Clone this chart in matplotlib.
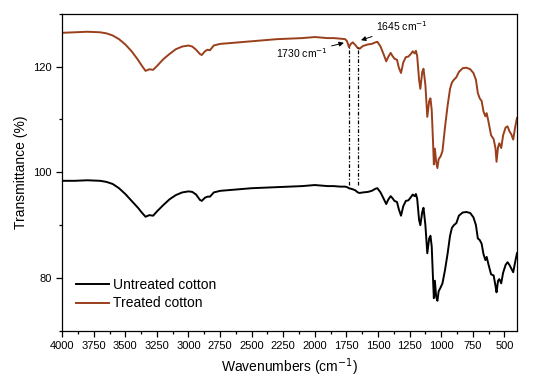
import numpy as np
import matplotlib
matplotlib.use('Agg')
import matplotlib.pyplot as plt
from matplotlib.ticker import MultipleLocator

plt.rcParams['font.family'] = ['Liberation Sans', 'DejaVu Sans']

# wavenumbers (cm-1) and transmittance (%)
wavenumber = [4000, 3900, 3800, 3700, 3650, 3600, 3550, 3500, 3450, 3400, 3370, 3340, 3310, 3280,
              3250, 3200, 3150, 3100, 3050, 3000, 2970, 2940, 2910, 2895, 2870, 2850, 2830, 2800,
              2750, 2700, 2600, 2500, 2400, 2300, 2200, 2100, 2000, 1950, 1900, 1850, 1800, 1760,
              1745, 1730, 1715, 1700, 1680, 1660, 1645, 1620, 1580, 1550, 1520, 1505, 1480, 1455,
              1435, 1420, 1400, 1385, 1370, 1350, 1335, 1318, 1300, 1280, 1260, 1240, 1225, 1210,
              1200, 1190, 1175, 1165, 1150, 1140, 1125, 1110, 1095, 1085, 1075, 1065, 1058, 1050,
              1040, 1030, 1020, 1005, 990, 970, 950, 930, 915, 900, 880, 860, 830, 800,
              770, 745, 725, 710, 695, 680, 665, 650, 640, 625, 605, 585, 570, 562,
              550, 540, 525, 510, 490, 475, 460, 445, 430, 415, 400]

untreated = [98.4, 98.4, 98.5, 98.4, 98.2, 97.8, 97.0, 95.9, 94.6, 93.3, 92.4, 91.6, 91.9, 91.8,
             92.6, 93.8, 94.9, 95.7, 96.2, 96.4, 96.3, 95.8, 94.8, 94.6, 95.2, 95.4, 95.4, 96.2,
             96.5, 96.6, 96.8, 97.0, 97.1, 97.2, 97.3, 97.4, 97.6, 97.5, 97.4, 97.4, 97.3, 97.3,
             97.2, 97.0, 96.9, 96.8, 96.6, 96.2, 96.1, 96.2, 96.3, 96.5, 96.9, 97.0, 96.2, 95.0,
             94.0, 94.8, 95.5, 95.1, 94.6, 94.4, 93.0, 91.8, 93.6, 94.6, 94.7, 95.3, 95.8, 95.5,
             95.9, 95.0, 91.0, 90.0, 92.5, 93.3, 90.0, 84.7, 87.5, 88.0, 86.0, 80.0, 76.2, 79.5,
             76.5, 75.7, 77.5, 78.2, 79.0, 81.5, 84.5, 88.0, 89.5, 90.0, 90.4, 91.8, 92.4, 92.5,
             92.3, 91.5, 90.0, 87.5, 87.2, 86.5, 84.5, 83.4, 84.0, 82.5, 80.7, 80.5, 78.5, 77.3,
             79.5, 79.8, 79.0, 81.0, 82.5, 83.0, 82.5, 81.8, 81.1, 83.0, 84.7]

treated = [126.4, 126.5, 126.6, 126.5, 126.3, 125.9, 125.2, 124.2, 122.9, 121.3, 120.2, 119.2, 119.5, 119.4,
           120.1, 121.4, 122.4, 123.3, 123.8, 124.0, 123.8, 123.2, 122.4, 122.2, 122.9, 123.2, 123.1, 124.0,
           124.3, 124.4, 124.6, 124.8, 125.0, 125.2, 125.3, 125.4, 125.6, 125.5, 125.4, 125.4, 125.3, 125.2,
           124.8, 123.7, 124.3, 124.6, 124.1, 123.5, 123.4, 123.9, 124.2, 124.3, 124.6, 124.7, 123.8, 122.3,
           121.0, 121.8, 122.6, 122.0, 121.5, 121.3, 119.8, 118.8, 120.8, 121.8, 121.9, 122.4, 122.9, 122.5,
           123.0, 122.0, 117.5, 115.8, 119.0, 119.6, 116.5, 110.5, 113.5, 114.0, 111.8, 106.0, 101.5, 104.5,
           102.0, 100.8, 102.5, 103.0, 104.0, 108.5, 112.5, 115.8, 117.0, 117.5, 118.0, 119.0, 119.7, 119.8,
           119.5, 118.8, 117.5, 115.0, 114.0, 113.5, 111.5, 110.6, 111.2, 109.5, 107.0, 106.3, 104.5, 102.0,
           104.8, 105.5, 104.6, 107.0, 108.5, 108.7, 107.8, 107.2, 106.2, 108.5, 110.3]

marked_bands = [1730, 1655]
band_labels = ['1730 cm$^{-1}$', '1645 cm$^{-1}$']

fig = plt.figure(figsize=(5.5, 3.83), dpi=100)
ax = fig.add_axes([0.113, 0.136, 0.827, 0.828])

ax.plot(wavenumber, untreated, color='black', lw=1.4, label='Untreated cotton')
ax.plot(wavenumber, treated, color='#9a3f1c', lw=1.4, label='Treated cotton')

# dash-dot guide lines between the two spectra
for b in marked_bands:
    ax.plot([b, b], [97.6, 123.8], color='black', lw=0.9, ls=(0, (3, 1.5, 1, 1.5)))

arrow = dict(arrowstyle='-|>', color='black', lw=0.7, mutation_scale=7, shrinkA=1, shrinkB=0)
ax.annotate(band_labels[0], xy=(1770, 124.5), xytext=(1900, 122.5),
            ha='right', va='center', fontsize=7.5, arrowprops=arrow)
ax.annotate(band_labels[1], xy=(1635, 125.0), xytext=(1515, 127.6),
            ha='left', va='center', fontsize=7.5, arrowprops=arrow)

ax.set_xlim(4000, 400)
ax.set_ylim(70, 130)
ax.xaxis.set_major_locator(MultipleLocator(250))
ax.xaxis.set_minor_locator(MultipleLocator(125))
ax.yaxis.set_major_locator(MultipleLocator(20))
ax.yaxis.set_minor_locator(MultipleLocator(10))
ax.tick_params(which='both', direction='out', labelsize=8, width=0.9)
ax.tick_params(which='major', length=4)
ax.tick_params(which='minor', length=2.5)
for s in ax.spines.values():
    s.set_linewidth(0.9)

ax.set_xlabel('Wavenumbers (cm$^{-1}$)', fontsize=10)
ax.set_ylabel('Transmittance (%)', fontsize=10)

ax.legend(loc='upper left', bbox_to_anchor=(0.03, 0.166), frameon=False, fontsize=10,
          handlelength=2.4, handletextpad=0.3, labelspacing=0.3, borderpad=0, borderaxespad=0)

fig.savefig('out.png', dpi=100)
